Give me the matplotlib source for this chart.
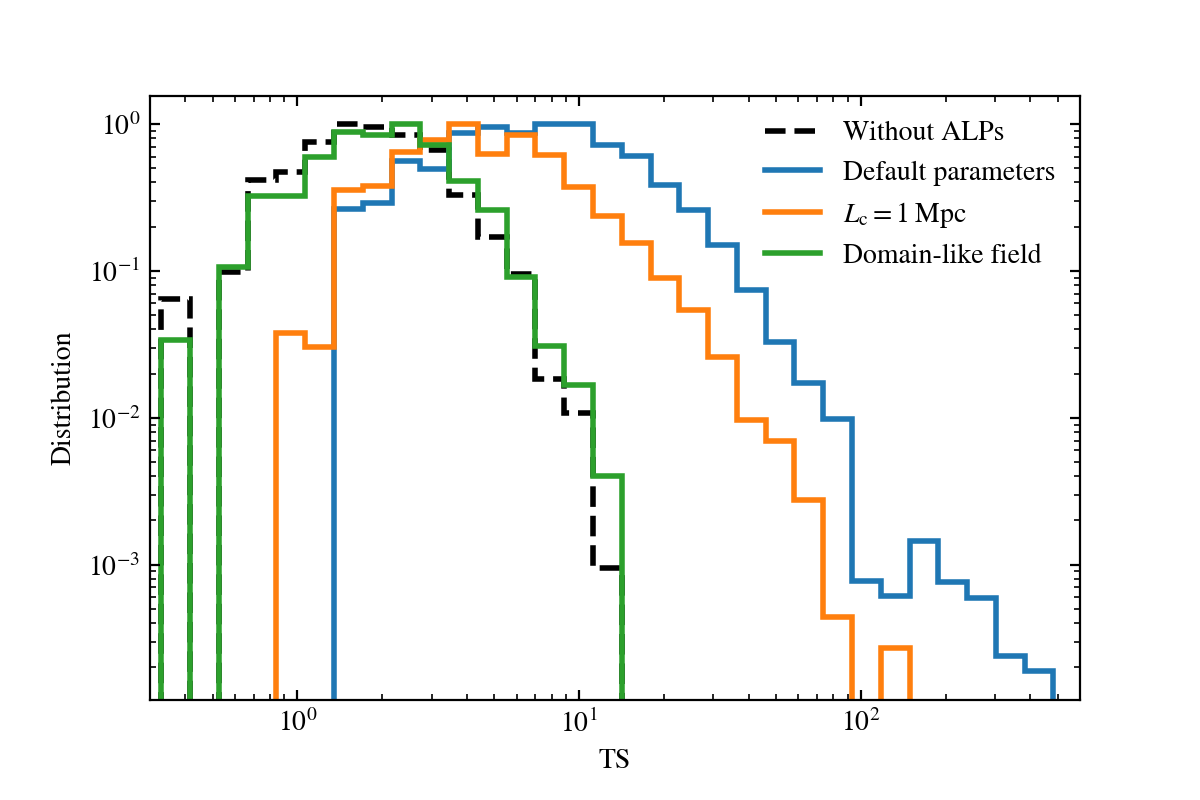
"""TS distribution histograms (log-log), with and without ALPs."""
import numpy as np
import matplotlib
matplotlib.use("Agg")
import matplotlib.pyplot as plt

plt.rcParams["font.family"] = "STIXGeneral"
plt.rcParams["mathtext.fontset"] = "stix"
plt.rcParams["font.size"] = 10

# 31 log-spaced TS bins (edges)
ts_edges = np.logspace(np.log10(0.329), np.log10(483.0), 32)

# normalised counts per bin (peak = 1)
no_alps = [0.064, 0, 0.098, 0.417, 0.469, 0.750, 1.0, 0.948, 0.846, 0.666,
           0.326, 0.170, 0.095, 0.0185, 0.0108, 0.000957,
           0, 0, 0, 0, 0, 0, 0, 0, 0, 0, 0, 0, 0, 0, 0]
default_pars = [0, 0, 0, 0, 0, 0, 0.265, 0.290, 0.557, 0.495,
                0.863, 0.959, 0.863, 1.0, 1.0, 0.723, 0.609, 0.387, 0.258, 0.151,
                0.0737, 0.0328, 0.0173, 0.00976, 0.000769, 0.000608, 0.00144,
                0.000757, 0.000595, 0.000240, 0.000188]
lc_1mpc = [0, 0, 0, 0, 0.0378, 0.0301, 0.358, 0.377, 0.641, 0.778,
           1.0, 0.625, 0.846, 0.619, 0.371, 0.235, 0.155, 0.0899, 0.0539, 0.0260,
           0.00965, 0.00698, 0.00276, 0.000441, 0, 0.000271, 0, 0, 0, 0, 0]
domain_like = [0.0341, 0, 0.106, 0.321, 0.321, 0.593, 0.877, 0.846, 1.0, 0.723,
               0.412, 0.261, 0.0906, 0.0307, 0.0167, 0.00404,
               0, 0, 0, 0, 0, 0, 0, 0, 0, 0, 0, 0, 0, 0, 0]

fig, ax = plt.subplots(figsize=(6, 4), dpi=200)
fig.subplots_adjust(left=0.125, right=0.9, top=0.88, bottom=0.125)

lw = 2
ax.stairs(no_alps, ts_edges, baseline=0, color="k", ls="--", lw=lw, label="Without ALPs")
ax.stairs(default_pars, ts_edges, baseline=0, color="C0", lw=lw, label="Default parameters")
ax.stairs(lc_1mpc, ts_edges, baseline=0, color="C1", lw=lw, label=r"$L_\mathrm{c} = 1\;\mathrm{Mpc}$")
ax.stairs(domain_like, ts_edges, baseline=0, color="C2", lw=lw, label="Domain-like field")

ax.set_xscale("log")
ax.set_yscale("log", nonpositive="clip")
ax.set_xlim(0.3, 600)
ax.set_ylim(1.2e-4, 1.55)
ax.set_xlabel("TS")
ax.set_ylabel("Distribution")
ax.tick_params(which="both", direction="in", top=True, right=True)

ax.legend(frameon=False, loc="upper right")

fig.savefig("out.png", dpi=200)
